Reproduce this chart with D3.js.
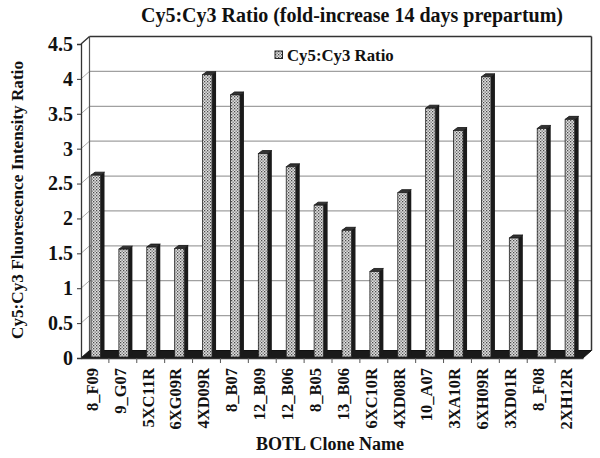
<!DOCTYPE html>
<html lang="en">
<head>
<meta charset="UTF-8">
<title>Cy5:Cy3 Ratio</title>
<script src="https://d3js.org/d3.v7.min.js"></script>
<style>
    body { margin: 0; padding: 0; background: #fff; }
    svg { display: block; font-family: 'Liberation Serif', 'DejaVu Serif', serif; font-weight: bold; }
</style>
</head>
<body>
<div id="chart"></div>
<script>
    const clones = ["8_F09", "9_G07", "5XC11R", "6XG09R", "4XD09R", "8_B07", "12_B09", "12_B06", "8_B05",
        "13_B06", "6XC10R", "4XD08R", "10_A07", "3XA10R", "6XH09R", "3XD01R", "8_F08", "2XH12R"];
    const ratios = [2.62, 1.56, 1.59, 1.57, 4.06, 3.77, 2.93, 2.74, 2.19, 1.83, 1.24, 2.37, 3.58, 3.26, 4.03, 1.72, 3.29, 3.42];
    const yTicks = [0, 0.5, 1, 1.5, 2, 2.5, 3, 3.5, 4, 4.5];

    const width = 600, height = 458;
    const plotL = 81, plotR = 583, plotB = 358, plotT = 44;
    const dx = 8.5, dy = -7.5;      // wall depth
    const bdx = 4, bdy = -3;        // bar depth

    const svg = d3.select("#chart").append("svg")
        .attr("width", width)
        .attr("height", height);

    const defs = svg.append("defs");
    const pat = defs.append("pattern")
        .attr("id", "dots")
        .attr("patternUnits", "userSpaceOnUse")
        .attr("width", 3).attr("height", 3);
    pat.append("rect").attr("width", 3).attr("height", 3).attr("fill", "#e0e0e0");
    pat.append("rect").attr("x", 0).attr("y", 0).attr("width", 1.3).attr("height", 1.3).attr("fill", "#4a4a4a");
    pat.append("rect").attr("x", 1.5).attr("y", 1.5).attr("width", 1.3).attr("height", 1.3).attr("fill", "#6a6a6a");

    const x = d3.scaleBand().domain(clones).range([plotL, plotR]);
    const y = d3.scaleLinear().domain([0, 4.5]).range([plotB, plotT]);

    // back wall gridlines + left wall slants
    const grid = svg.append("g");
    yTicks.forEach(t => {
        if (t === 0) return;
        grid.append("line")
            .attr("x1", plotL + dx).attr("x2", plotR + dx)
            .attr("y1", y(t) + dy).attr("y2", y(t) + dy)
            .attr("stroke", t === 4.5 ? "#333" : "#a0a0a0")
            .attr("stroke-width", t === 4.5 ? 1.5 : 1.2);
        grid.append("line")
            .attr("x1", plotL).attr("x2", plotL + dx)
            .attr("y1", y(t)).attr("y2", y(t) + dy)
            .attr("stroke", "#aaa").attr("stroke-width", 1);
    });
    // back wall edges
    grid.append("line")
        .attr("x1", plotL + dx).attr("x2", plotL + dx)
        .attr("y1", y(4.5) + dy).attr("y2", plotB + dy)
        .attr("stroke", "#555").attr("stroke-width", 1.2);
    grid.append("line")
        .attr("x1", plotR + dx).attr("x2", plotR + dx)
        .attr("y1", y(4.5) + dy).attr("y2", plotB + dy)
        .attr("stroke", "#333").attr("stroke-width", 1.5);

    // floor
    svg.append("polygon")
        .attr("points", [[plotL, plotB], [plotL + dx, plotB + dy], [plotR + dx, plotB + dy], [plotR, plotB]].join(" "))
        .attr("fill", "#1a1a1a")
        .attr("stroke", "#111").attr("stroke-width", 1);

    // legend
    const lg = svg.append("g").attr("transform", "translate(275,51)");
    lg.append("rect").attr("width", 7.5).attr("height", 7.5)
        .attr("fill", "url(#dots)").attr("stroke", "#222").attr("stroke-width", 1);
    lg.append("text").attr("x", 12).attr("y", 9.5)
        .attr("font-size", 16.8).attr("fill", "#111")
        .text("Cy5:Cy3 Ratio");

    // bars
    const bw = 9.5;
    const bars = svg.append("g").selectAll("g")
        .data(clones.map((c, i) => ({ name: c, value: ratios[i] })))
        .join("g");
    bars.append("polygon")   // right side
        .attr("points", d => {
            const x1 = x(d.name) + 10 + bw;
            return [[x1, y(d.value)], [x1 + bdx, y(d.value) + bdy], [x1 + bdx, plotB - 1 + bdy], [x1, plotB - 1]].join(" ");
        })
        .attr("fill", "#1a1a1a");
    bars.append("polygon")   // top
        .attr("points", d => {
            const x0 = x(d.name) + 10, yt = y(d.value);
            return [[x0, yt], [x0 + bdx, yt + bdy], [x0 + bw + bdx, yt + bdy], [x0 + bw, yt]].join(" ");
        })
        .attr("fill", "#333").attr("stroke", "#111").attr("stroke-width", 0.8);
    bars.append("rect")      // front face
        .attr("x", d => x(d.name) + 10)
        .attr("y", d => y(d.value))
        .attr("width", bw)
        .attr("height", d => plotB - 1 - y(d.value))
        .attr("fill", "url(#dots)")
        .attr("stroke", "#222").attr("stroke-width", 0.8);

    // y axis
    svg.append("g")
        .attr("transform", `translate(${plotL},0)`)
        .call(d3.axisLeft(y).tickValues(yTicks).tickSize(4).tickPadding(4).tickFormat(d3.format("")))
        .call(g => g.select(".domain").attr("stroke", "#333").attr("stroke-width", 1.3))
        .call(g => g.selectAll(".tick line").attr("stroke", "#333"))
        .call(g => g.selectAll(".tick text")
            .attr("font-family", "'Liberation Serif', serif")
            .attr("font-weight", "bold")
            .attr("font-size", 20).attr("fill", "#111"));
    svg.append("line")
        .attr("x1", plotL).attr("x2", plotL + dx)
        .attr("y1", plotT).attr("y2", plotT + dy)
        .attr("stroke", "#333").attr("stroke-width", 1.3);

    // x axis
    const xa = svg.append("g")
        .attr("transform", `translate(0,${plotB})`)
        .call(d3.axisBottom(x).tickSize(0).tickPadding(0));
    xa.select(".domain").attr("stroke", "#333").attr("stroke-width", 1.3);
    xa.selectAll(".tick text")
        .attr("font-family", "'Liberation Serif', serif")
        .attr("font-weight", "bold")
        .attr("font-size", 16.5).attr("fill", "#111")
        .attr("transform", "translate(-3,10) rotate(-90)")
        .attr("text-anchor", "end")
        .attr("dy", "0.35em")
        .attr("x", 0).attr("y", 0);
    xa.selectAll(".boundary")
        .data(clones.slice(1))
        .join("line")
        .attr("class", "boundary")
        .attr("x1", d => x(d)).attr("x2", d => x(d))
        .attr("y1", 0).attr("y2", 5)
        .attr("stroke", "#555");

    // titles
    svg.append("text")
        .attr("x", 352).attr("y", 22)
        .attr("text-anchor", "middle")
        .attr("font-size", 20).attr("fill", "#111")
        .text("Cy5:Cy3 Ratio (fold-increase 14 days prepartum)");
    svg.append("text")
        .attr("x", 330).attr("y", 450)
        .attr("text-anchor", "middle")
        .attr("font-size", 18).attr("fill", "#111")
        .text("BOTL Clone Name");
    svg.append("text")
        .attr("transform", "translate(23,200) rotate(-90)")
        .attr("text-anchor", "middle")
        .attr("font-size", 17.2).attr("fill", "#111")
        .text("Cy5:Cy3 Fluorescence Intensity Ratio");
</script>
</body>
</html>
